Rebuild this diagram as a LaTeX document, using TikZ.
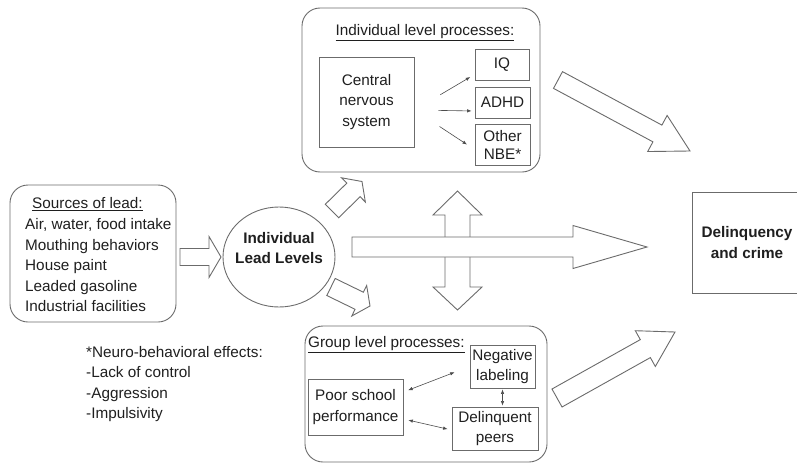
\documentclass[tikz,border=0pt]{standalone}
\usepackage{fontspec}
\setmainfont{Liberation Sans}
\usetikzlibrary{calc,arrows.meta,shapes.geometric}

\definecolor{linegray}{gray}{0.42}
\definecolor{textgray}{gray}{0.12}
\newcommand{\diagfont}{\fontsize{15.3}{20.6}\selectfont}

% block arrow: start, tip, shaft half width, head half width, head length
\newcommand{\fatarrow}[5]{%
  \coordinate (fa-h) at ($(#2)!#5!(#1)$);
  \draw[blockarrow] ($(#1)!#3!90:(#2)$) -- ($(fa-h)!#3!90:(#2)$)
    -- ($(fa-h)!#4!90:(#2)$) -- (#2) -- ($(fa-h)!#4!-90:(#2)$)
    -- ($(fa-h)!#3!-90:(#2)$) -- ($(#1)!#3!-90:(#2)$) -- cycle;
}

\begin{document}
\begin{tikzpicture}[x=1pt,y=-1pt,
    every node/.style={font=\diagfont, text=textgray},
    box/.style={draw=linegray, line width=0.9pt, rectangle, align=center, inner sep=0pt},
    roundbox/.style={box, rounded corners=18pt},
    blockarrow/.style={draw=linegray, line width=0.9pt, fill=white, line join=miter},
    thinarr/.style={draw=black!70, line width=0.6pt, -{Latex[length=4.5pt,width=3.5pt]}},
    twoarr/.style={draw=black!70, line width=0.6pt, {Latex[length=4.5pt,width=3.5pt]}-{Latex[length=4.5pt,width=3.5pt]}}]
  \useasboundingbox (0,0) rectangle (797,463);

  % sources of lead
  \node[roundbox, minimum width=166, minimum height=137] (src) at (93,253.5) {};
  \node[anchor=west, align=left, inner sep=0pt] (srclist) at (25,255)
    {\hspace*{7pt}\underline{Sources of lead:}\\Air, water, food intake\\Mouthing behaviors\\House paint\\Leaded gasoline\\Industrial facilities};

  % lead levels
  \node[ellipse, draw=linegray, line width=0.9pt, minimum width=112, minimum height=100] (lead) at (279,257) {};
  \node[align=center, font=\diagfont\bfseries] (leadtxt) at (279,248) {Individual\\Lead Levels};

  % individual level
  \node[roundbox, minimum width=238, minimum height=164] (indiv) at (421,90) {};
  \node (indivttl) at (425,33) {\underline{Individual level processes:}};
  \node[box, minimum width=95, minimum height=90] (cns) at (366.5,102) {Central\\nervous\\system};
  \node[box, minimum width=54, minimum height=31] (iq) at (502,64.5) {IQ};
  \node[box, minimum width=55, minimum height=31] (adhd) at (502.5,102.5) {ADHD};
  \node[box, minimum width=55, minimum height=41, font=\fontsize{15.3}{18}\selectfont] (nbe) at (502.5,144.5) {Other\\NBE*};

  \draw[thinarr, shorten <=30pt, shorten >=5pt] ([yshift=-8pt]cns.east) -- ([yshift=-10pt]iq.west);
  \draw[thinarr, shorten <=24pt, shorten >=3pt] ([yshift=-8pt]cns.east) -- ([yshift=-8.5pt]adhd.west);
  \draw[thinarr, shorten <=30pt, shorten >=9pt] ([yshift=-8pt]cns.east) -- ([yshift=-5pt]nbe.west);

  % group level
  \node[roundbox, minimum width=242, minimum height=136] (group) at (426,394) {};
  \node[anchor=west, inner sep=0pt] (groupttl) at (308,345) {\underline{Group level processes:}};
  \node[box, minimum width=95, minimum height=56] (poor) at (355.5,407) {Poor school\\performance};
  \node[box, minimum width=65, minimum height=43] (neg) at (502.5,366.5) {Negative\\labeling};
  \node[box, minimum width=86, minimum height=43] (peers) at (495,428.5) {Delinquent\\peers};

  \draw[twoarr, shorten <=5pt, shorten >=16pt] ([yshift=15pt]poor.east) -- (neg.west);
  \draw[twoarr, shorten <=5pt, shorten >=4pt] ([yshift=-12pt]poor.east) -- ([yshift=-1.5pt]peers.west);
  \draw[twoarr, shorten <=1pt, shorten >=1pt] (neg.south) -- (neg.south |- peers.north);

  % outcome
  \node[box, minimum width=110, minimum height=101, font=\diagfont\bfseries] (crime) at (747,242.5) {Delinquency\\and crime};

  % footnote
  \node[anchor=west, align=left, inner sep=0pt] (note) at (86,384)
    {*Neuro-behavioral effects:\\-Lack of control\\-Aggression\\-Impulsivity};

  % block arrows
  \coordinate (srcout) at (180,257);
  \coordinate (leadin) at (221,257);
  \coordinate (indivin0) at (332,211);
  \coordinate (indivin1) at (362,181.5);
  \coordinate (groupin0) at (331,287);
  \coordinate (groupin1) at (370,306);
  \coordinate (mainst) at (352,247);
  \coordinate (maintip) at (647,247);
  \coordinate (indivout) at (558,80);
  \coordinate (crimeup) at (690,151);
  \coordinate (groupout) at (557,398);
  \coordinate (crimedn) at (675,332);
  \coordinate (link) at (457.5,250);

  \fatarrow{srcout}{leadin}{8.5pt}{20.5pt}{12pt}
  \fatarrow{indivin0}{indivin1}{9.5pt}{17pt}{12pt}
  \fatarrow{groupin0}{groupin1}{9.5pt}{17pt}{12pt}

  % two-way arrow between the levels
  \draw[blockarrow] (link) ++(-12.5,-35) -- ++(-12,0) -- ++(24.5,-24) -- ++(24.5,24) -- ++(-12,0)
    -- ++(0,72) -- ++(12,0) -- ++(-24.5,23) -- ++(-24.5,-23) -- ++(12,0) -- cycle;

  \fatarrow{mainst}{maintip}{10pt}{21.5pt}{74pt}
  \fatarrow{indivout}{crimeup}{9.5pt}{20.5pt}{37pt}
  \fatarrow{groupout}{crimedn}{10.3pt}{20.5pt}{34pt}
\end{tikzpicture}
\end{document}
